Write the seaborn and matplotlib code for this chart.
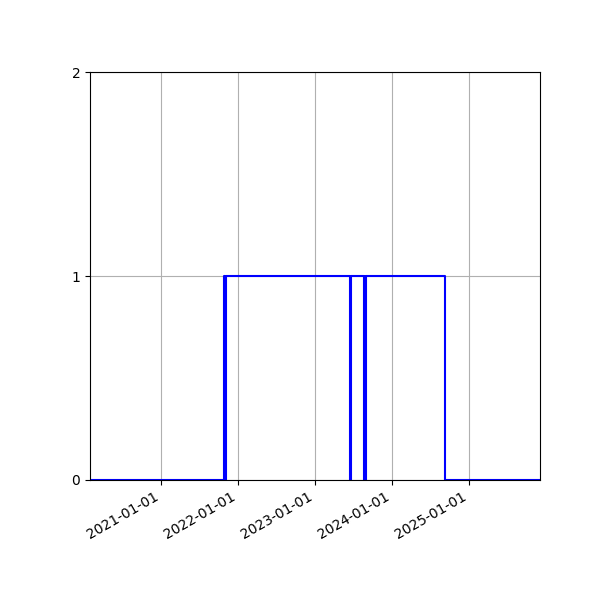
import pandas as pd
import matplotlib
matplotlib.use("Agg")
import matplotlib.pyplot as plt
import matplotlib.dates as mdates
import seaborn as sns

# state changes (step, post): date -> value from that date on
change_dates = [
    "2020-01-30", "2021-10-27", "2021-11-01", "2021-11-05",
    "2023-06-14", "2023-06-19", "2023-08-21", "2023-08-24",
    "2023-08-28", "2023-09-01", "2024-09-10", "2025-12-03",
]
state_values = [0, 1, 0, 1, 0, 1, 0, 1, 0, 1, 0, 0]
y_ticks = [0, 1, 2]

df = pd.DataFrame({"date": pd.to_datetime(change_dates), "state": state_values})

fig, ax = plt.subplots(figsize=(6, 6), dpi=100)
sns.lineplot(data=df, x="date", y="state", drawstyle="steps-post",
             color="blue", linewidth=1.5, ax=ax)

ax.set_xlim(df["date"].min(), df["date"].max())
ax.set_ylim(0, 2)
ax.set_yticks(y_ticks)
ax.xaxis.set_major_locator(mdates.YearLocator())
ax.xaxis.set_major_formatter(mdates.DateFormatter("%Y-%m-%d"))
ax.set_xlabel("")
ax.set_ylabel("")
ax.grid(True)
fig.autofmt_xdate()
fig.subplots_adjust(left=0.15, right=0.9, top=0.88, bottom=0.2)

fig.savefig("out.png", dpi=100)
